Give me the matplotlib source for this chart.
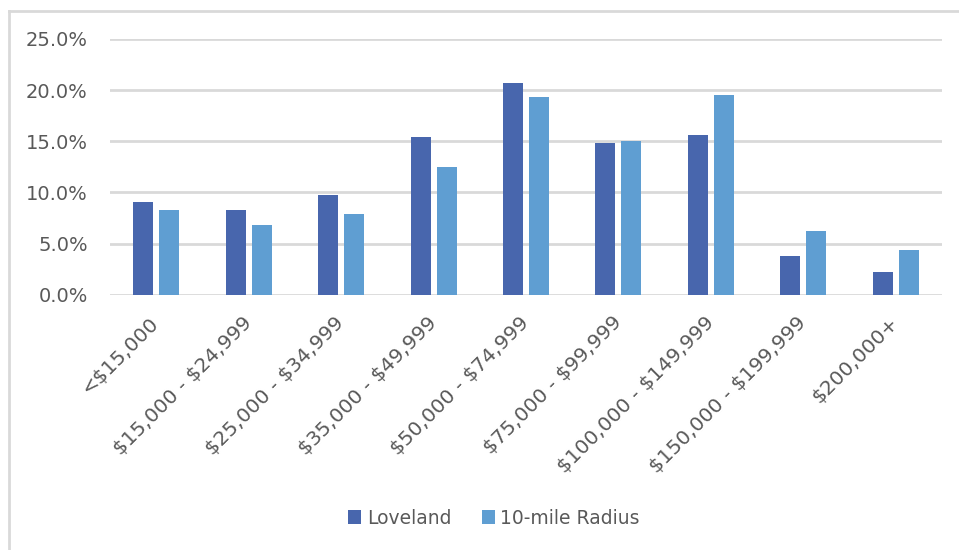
import numpy as np
import matplotlib.pyplot as plt
from matplotlib.ticker import PercentFormatter
from matplotlib.lines import Line2D

categories = ['<$15,000', '$15,000 - $24,999', '$25,000 - $34,999', '$35,000 - $49,999',
              '$50,000 - $74,999', '$75,000 - $99,999', '$100,000 - $149,999',
              '$150,000 - $199,999', '$200,000+']
loveland = [9.1, 8.3, 9.7, 15.4, 20.7, 14.8, 15.6, 3.8, 2.2]
radius10 = [8.3, 6.8, 7.9, 12.5, 19.3, 15.0, 19.5, 6.2, 4.4]

plt.rcParams['font.family'] = ['DejaVu Sans']
plt.rcParams['text.parse_math'] = False
txt = '#595959'

fig = plt.figure(figsize=(9.59, 5.5), dpi=100)
ax = fig.add_axes([110 / 959, 1 - 294.7 / 550, 832 / 959, 255.7 / 550])

x = np.arange(len(categories))
w = 0.216
ax.bar(x - 0.141, loveland, w, color='#4866AD', label='Loveland', zorder=3)
ax.bar(x + 0.141, radius10, w, color='#5F9ED2', label='10-mile Radius', zorder=3)

ax.set_xlim(-0.5, len(categories) - 0.5)
ax.set_ylim(0, 25)
ax.set_yticks(np.arange(0, 26, 5))
ax.yaxis.set_major_formatter(PercentFormatter(decimals=1))
ax.grid(axis='y', color='#D9D9D9', linewidth=2, zorder=0)
for s in ax.spines.values():
    s.set_visible(False)
ax.tick_params(axis='both', length=0, labelcolor=txt)
ax.tick_params(axis='y', pad=16, labelsize=14)
ax.set_xticks(x)
ax.set_xticklabels(categories, rotation=45, ha='right', va='center',
                   rotation_mode='anchor', fontsize=14.5)
ax.tick_params(axis='x', pad=18)

ax.legend(loc='center', bbox_to_anchor=(494 / 959, 1 - 518 / 550), bbox_transform=fig.transFigure,
          ncol=2, frameon=False, fontsize=13.5, labelcolor=txt, handlelength=0.7, handleheight=0.7,
          columnspacing=1.6, handletextpad=0.3)

# chart frame (top and left edges visible)
fig.add_artist(Line2D([8.5 / 959, 8.5 / 959], [0, 1 - 11 / 550], color='#D9D9D9', linewidth=2))
fig.add_artist(Line2D([8.5 / 959, 1], [1 - 11 / 550, 1 - 11 / 550], color='#D9D9D9', linewidth=2))

fig.savefig('out.png', dpi=100)
